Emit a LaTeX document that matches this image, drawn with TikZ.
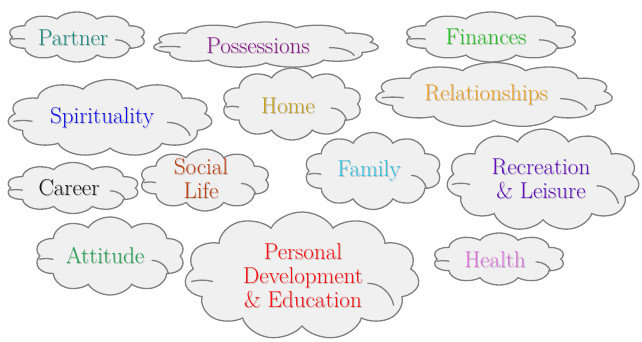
\documentclass[tikz,border=0pt]{standalone}
\usetikzlibrary{shapes.symbols}
\definecolor{cpartner}{HTML}{1A8A80}
\definecolor{cposs}{HTML}{8B1A8B}
\definecolor{cfin}{HTML}{22C022}
\definecolor{crel}{HTML}{F0A020}
\definecolor{cspir}{HTML}{1010F0}
\definecolor{chome}{HTML}{C8A020}
\definecolor{ccareer}{HTML}{101010}
\definecolor{csocial}{HTML}{C04010}
\definecolor{cfamily}{HTML}{30C0E0}
\definecolor{crec}{HTML}{6010C0}
\definecolor{catt}{HTML}{20A050}
\definecolor{cpers}{HTML}{FF1010}
\definecolor{chealth}{HTML}{E070E0}
\definecolor{cloudfill}{HTML}{F0F0F0}
\definecolor{cloudline}{HTML}{808080}
\newcommand\shtxt[2]{\makebox[0pt][l]{\raisebox{-0.9pt}{\hspace{0.9pt}\color{black!25}#2}}{\color{#1}#2}}
\tikzset{
  cloudshape/.style={cloud, cloud puff arc=135, cloud ignores aspect,
    draw=cloudline, line width=1.3pt, fill=cloudfill, inner sep=0pt,
    minimum width=100pt, minimum height=70pt, transform shape},
  cloudhook/.style={draw=cloudline, line width=1.3pt, line cap=round},
  cloudtext/.style={inner sep=0pt, font=\fontsize{23}{24}\selectfont, align=center}
}
% name, cx, cy, W, H, puffs, tx, ty, text
\newcommand\cloudat[9]{%
  \begin{scope}[shift={(#2,#3)}, xscale=#4/100, yscale=#5/70]
    \node[cloudshape, cloud puffs=#6] (#1-c) at (0,0) {};
    \path[cloudhook] (28,4) .. controls (34,4) and (38,10) .. (39,16);
    \path[cloudhook] (-47,3) .. controls (-44,2) and (-41,2) .. (-38,3);
  \end{scope}
  \node[cloudtext] (#1) at (#7,#8) {#9};
}
\begin{document}
\begin{tikzpicture}[x=1pt,y=-1pt]
\useasboundingbox (0,0) rectangle (642,342);
\cloudat{partner}{77}{37}{138}{50}{10}{73}{38}{\shtxt{cpartner}{Partner}}
\cloudat{poss}{266}{45}{226}{46}{11}{258}{46}{\shtxt{cposs}{Possessions}}
\cloudat{fin}{491}{37}{173}{50}{10}{486}{37}{\shtxt{cfin}{Finances}}
\cloudat{rel}{494}{95}{238}{65}{11}{486}{95}{\shtxt{crel}{Relationships}}
\cloudat{spir}{110}{118}{205}{77}{11}{102}{118}{\shtxt{cspir}{Spirituality}}
\cloudat{home}{292}{104}{140}{72}{10}{288}{106}{\shtxt{chome}{Home}}
\cloudat{career}{73}{188}{133}{51}{10}{69}{188}{\shtxt{ccareer}{Career}}
\cloudat{social}{205}{180}{130}{62}{10}{201}{179}{\shtxt{csocial}{Social}\\\shtxt{csocial}{Life}}
\cloudat{family}{373}{171}{137}{77}{10}{369}{171}{\shtxt{cfamily}{Family}}
\cloudat{rec}{543}{180}{193}{102}{11}{541}{179}{\shtxt{crec}{Recreation}\\\shtxt{crec}{\& Leisure}}
\cloudat{att}{110}{256}{150}{78}{10}{105}{256}{\shtxt{catt}{Attitude}}
\cloudat{pers}{302}{276}{235}{128}{11}{303}{276}{\shtxt{cpers}{Personal}\\\shtxt{cpers}{Development}\\\shtxt{cpers}{\& Education}}
\cloudat{health}{499}{259}{132}{52}{10}{495}{260}{\shtxt{chealth}{Health}}
\end{tikzpicture}
\end{document}
